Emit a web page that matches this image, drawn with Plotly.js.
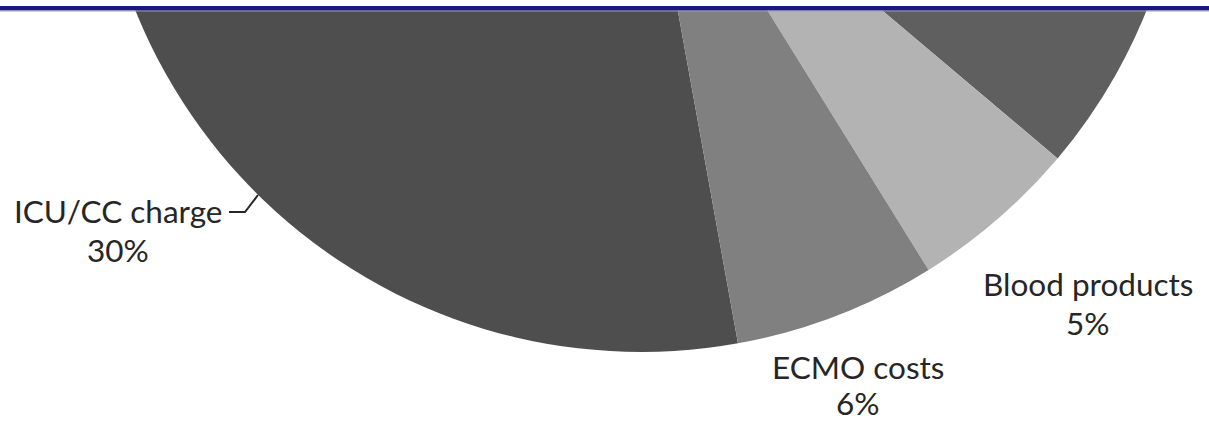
<!DOCTYPE html>
<html>
<head>
<meta charset="utf-8">
<script src="https://cdn.plot.ly/plotly-3.0.1.min.js"></script>
<style>
  html, body { margin: 0; padding: 0; width: 1209px; height: 422px; overflow: hidden; background: #ffffff; }
  #wrap { position: absolute; left: 0; top: -800px; width: 1209px; height: 1400px; }
  #chart { width: 1209px; height: 1400px; }
</style>
</head>
<body>
<div id="wrap"><div id="chart"></div></div>
<script>
// ---- data (slices above the crop are not visible) ----
const categories = ["ICU/CC charge", "Other categories (cropped)", "Other category (cropped)", "Blood products", "ECMO costs"];
const percents   = [30, 47, 12, 5, 6];
const sliceColors = ["#4e4e4e", "#6a6a6a", "#5f5f5f", "#b3b3b3", "#808080"];
const labelledCategories = ["ICU/CC charge", "Blood products", "ECMO costs"];

// ---- geometry helpers (page pixel -> paper coordinates) ----
const W = 1209, H = 1400, TOP = -800;
const px = x => x / W;
const py = y => 1 - (y - TOP) / H;

// pie centre (641,-193) radius 545 in page pixels
const cx = 641, cy = -193, R = 545;

const trace = {
  type: "pie",
  labels: categories,
  values: percents,
  sort: false,
  direction: "clockwise",
  rotation: 169.75,
  textinfo: "none",
  hoverinfo: "skip",
  showlegend: false,
  marker: { colors: sliceColors, line: { width: 0 } },
  domain: { x: [px(cx - R), px(cx + R)], y: [py(cy + R), py(cy - R)] }
};

// centre of the name line and of the percent line, page pixels
const labelPos = {
  "ICU/CC charge":  { x: 118,  y1: 211, y2: 250 },
  "Blood products": { x: 1088, y1: 284, y2: 323 },
  "ECMO costs":     { x: 858,  y1: 367, y2: 403 }
};

const labelFont = { family: "Lato, 'Open Sans', sans-serif", size: 31.5, color: "#262626" };
const annotations = [];
labelledCategories.forEach(name => {
  const i = categories.indexOf(name);
  const p = labelPos[name];
  annotations.push({
    xref: "paper", yref: "paper", x: px(p.x), y: py(p.y1),
    xanchor: "center", yanchor: "middle", showarrow: false,
    text: categories[i], font: labelFont
  });
  annotations.push({
    xref: "paper", yref: "paper", x: px(p.x), y: py(p.y2),
    xanchor: "center", yanchor: "middle", showarrow: false,
    text: percents[i] + "%", font: labelFont
  });
});

const shapes = [
  // white area above the rule (crop edge)
  { type: "rect", xref: "paper", yref: "paper", x0: 0, x1: 1, y0: py(6), y1: py(-2),
    fillcolor: "#ffffff", line: { width: 0 }, layer: "above" },
  // navy rule at the top of the crop
  { type: "rect", xref: "paper", yref: "paper", x0: 0, x1: 1, y0: py(10.5), y1: py(6),
    fillcolor: "#1a1a7a", line: { width: 0 }, layer: "above" },
  { type: "rect", xref: "paper", yref: "paper", x0: 0, x1: 1, y0: py(11.5), y1: py(10.5),
    fillcolor: "#9a9ac4", line: { width: 0 }, layer: "above" },
  // leader line for ICU/CC charge
  { type: "path", xref: "paper", yref: "paper", layer: "above",
    path: "M " + px(229) + " " + py(212) + " L " + px(245) + " " + py(212) + " L " + px(258) + " " + py(195),
    line: { color: "#262626", width: 2 } }
];

const layout = {
  width: W, height: H,
  margin: { l: 0, r: 0, t: 0, b: 0 },
  paper_bgcolor: "#ffffff",
  plot_bgcolor: "#ffffff",
  showlegend: false,
  annotations: annotations,
  shapes: shapes
};

Plotly.newPlot("chart", [trace], layout, { displayModeBar: false, staticPlot: true });
</script>
</body>
</html>
